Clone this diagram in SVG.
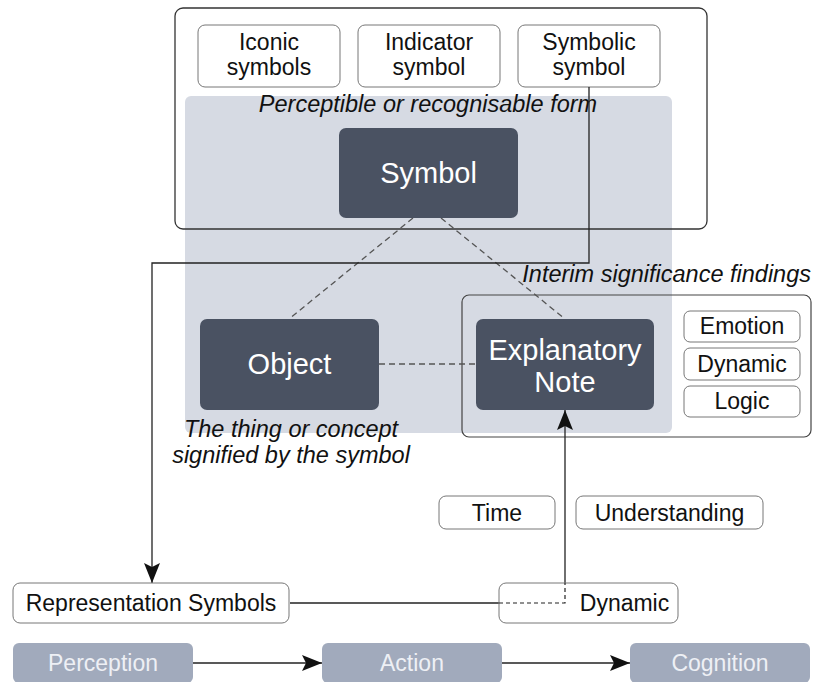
<svg xmlns="http://www.w3.org/2000/svg" width="813" height="682" viewBox="0 0 813 682">
<style>
text{font-family:"Liberation Sans",Arial,Helvetica,sans-serif;}
.lbl{font-size:23px;fill:#111;text-anchor:middle;}
.it{font-size:23.5px;font-style:italic;fill:#111;text-anchor:middle;}
.dk{fill:#4a5262;}
.dkt{font-size:29px;fill:#fff;text-anchor:middle;}
.wb{fill:#fff;stroke:#777;stroke-width:1;}
.bb{fill:#a1aabc;}
.bbt{font-size:23px;fill:#eef0f5;text-anchor:middle;}
.ln{fill:none;stroke:#222;stroke-width:1.3;}
.dl{fill:none;stroke:#555;stroke-width:1.3;stroke-dasharray:6 4;}
.ds{fill:none;stroke:#222;stroke-width:1.2;stroke-dasharray:4 3;}
</style>
<defs>
<marker id="arr" viewBox="0 0 20 16" markerWidth="20" markerHeight="16" refX="20" refY="8" orient="auto" markerUnits="userSpaceOnUse">
<path d="M0,0 L20,8 L0,16 L4,8 z" fill="#111"/>
</marker>
</defs>
<rect width="813" height="682" fill="#fff"/>
<g id="form-container">
<rect x="175" y="8" width="532" height="221" rx="8" fill="#fff"/>
</g>
<g id="grey-region">
<rect x="185" y="96" width="487" height="337" rx="6" fill="#d6dae3"/>
<text class="it" x="428" y="112">Perceptible or recognisable form</text>
</g>
<g id="form-border">
<rect x="175" y="8" width="532" height="221" rx="8" fill="none" stroke="#333" stroke-width="1.3"/>
</g>
<g id="iconic">
<rect class="wb" x="198" y="25" width="142" height="62" rx="7"/>
<text class="lbl" x="269" y="50">Iconic</text>
<text class="lbl" x="269" y="75">symbols</text>
</g>
<g id="indicator">
<rect class="wb" x="358" y="25" width="142" height="62" rx="7"/>
<text class="lbl" x="429" y="50">Indicator</text>
<text class="lbl" x="429" y="75">symbol</text>
</g>
<g id="symbolic">
<rect class="wb" x="518" y="25" width="142" height="62" rx="7"/>
<text class="lbl" x="589" y="50">Symbolic</text>
<text class="lbl" x="589" y="75">symbol</text>
</g>
<g id="interim">
<rect x="462" y="295" width="349" height="142" rx="7" fill="none" stroke="#444" stroke-width="1.2"/>
<text class="it" x="811" y="282" style="text-anchor:end">Interim significance findings</text>
</g>
<g id="connectors">
<path class="dl" d="M413,218 L289,319"/>
<path class="dl" d="M441,218 L565,319"/>
<path class="dl" d="M379,364 H476"/>
<path class="ln" d="M589,87 V263 H152 V583" marker-end="url(#arr)"/>
<path class="ln" d="M290,603 H499"/>
<path class="ln" d="M565,583 V410" marker-end="url(#arr)"/>
<path class="ln" d="M193,663 H322" marker-end="url(#arr)"/>
<path class="ln" d="M502,663 H630" marker-end="url(#arr)"/>
</g>
<g id="symbol">
<rect class="dk" x="339" y="128" width="179" height="90" rx="7"/>
<text class="dkt" x="428.5" y="183">Symbol</text>
</g>
<g id="object">
<rect class="dk" x="200" y="319" width="179" height="91" rx="7"/>
<text class="dkt" x="289.5" y="374">Object</text>
<text class="it" x="291" y="437">The thing or concept</text>
<text class="it" x="291" y="463">signified by the symbol</text>
</g>
<g id="explanatory-note">
<rect class="dk" x="476" y="319" width="178" height="91" rx="7"/>
<text class="dkt" x="565" y="360">Explanatory</text>
<text class="dkt" x="565" y="392">Note</text>
</g>
<g id="emotion">
<rect class="wb" x="684" y="311" width="116" height="31" rx="6"/>
<text class="lbl" x="742" y="334">Emotion</text>
</g>
<g id="dynamic-1">
<rect class="wb" x="684" y="348" width="116" height="32" rx="6"/>
<text class="lbl" x="742" y="372">Dynamic</text>
</g>
<g id="logic">
<rect class="wb" x="684" y="386" width="116" height="31" rx="6"/>
<text class="lbl" x="742" y="409">Logic</text>
</g>
<g id="time">
<rect class="wb" x="439" y="496" width="116" height="33" rx="7"/>
<text class="lbl" x="497" y="521">Time</text>
</g>
<g id="understanding">
<rect class="wb" x="576" y="496" width="187" height="33" rx="7"/>
<text class="lbl" x="669.5" y="521">Understanding</text>
</g>
<g id="representation-symbols">
<rect class="wb" x="13" y="583" width="276" height="40" rx="7"/>
<text class="lbl" x="151" y="611">Representation Symbols</text>
</g>
<g id="dynamic-2">
<rect x="499" y="583" width="179" height="40" rx="7" fill="none" stroke="#777" stroke-width="1"/>
<path class="ds" d="M499,603 H565 V583"/>
<text class="lbl" x="624.5" y="611">Dynamic</text>
</g>
<g id="perception">
<rect class="bb" x="13" y="643" width="180" height="40" rx="6"/>
<text class="bbt" x="103" y="671">Perception</text>
</g>
<g id="action">
<rect class="bb" x="322" y="643" width="180" height="40" rx="6"/>
<text class="bbt" x="412" y="671">Action</text>
</g>
<g id="cognition">
<rect class="bb" x="630" y="643" width="180" height="40" rx="6"/>
<text class="bbt" x="720" y="671">Cognition</text>
</g>
</svg>
